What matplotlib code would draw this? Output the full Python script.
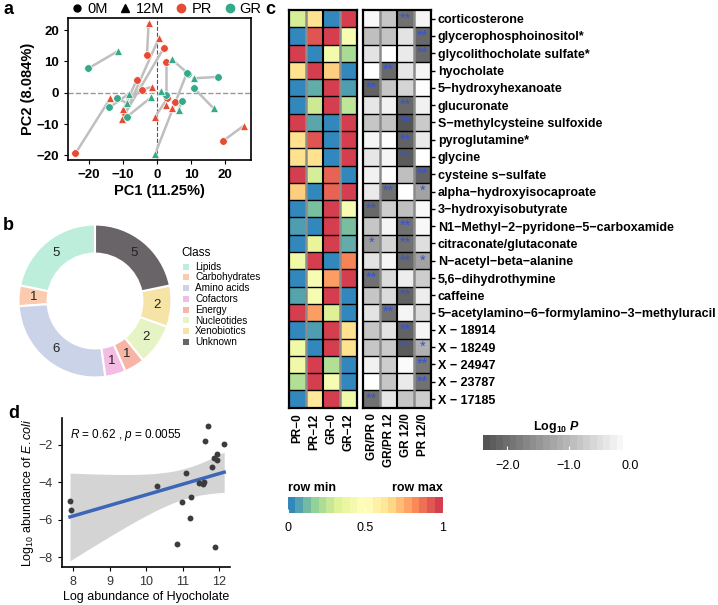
import numpy as np
import matplotlib
matplotlib.use("Agg")
import matplotlib.pyplot as plt
from matplotlib.colors import LinearSegmentedColormap, Normalize
from matplotlib.lines import Line2D
from matplotlib.patches import Rectangle
import matplotlib.cm as cm

plt.rcParams['font.family'] = ['Liberation Sans', 'DejaVu Sans']
plt.rcParams['mathtext.fontset'] = 'custom'
plt.rcParams['mathtext.rm'] = 'Liberation Sans'
plt.rcParams['mathtext.it'] = 'Liberation Sans:italic'
plt.rcParams['mathtext.bf'] = 'Liberation Sans:bold'
plt.rcParams['mathtext.bfit'] = 'Liberation Sans:italic:bold'

M = "\u2212"

# ---- panel a: PCA, 0M -> 12M per subject
pr_pc1_0 = [-24.0, -3.0, 1.9, -6.0, 2.6, 19.5, -4.3, 3.0, 5.3, -9.5]
pr_pc2_0 = [-19.4, 12.0, 14.2, 4.1, 9.7, -15.3, 0.9, -1.8, -2.9, -7.0]
pr_pc1_12 = [-13.8, -2.5, -10.4, -9.9, 2.6, 25.4, -1.6, -0.6, 4.3, 0.5]
pr_pc2_12 = [-1.8, 22.2, -8.5, -5.3, -3.9, -10.6, 1.9, -7.7, -5.0, 17.4]
gr_pc1_0 = [-20.2, 9.2, 8.7, 18.0, 10.9, -14.0, -11.9, -8.9, 2.5, 7.3]
gr_pc2_0 = [7.8, 6.0, 6.2, 5.1, 1.4, -4.7, -1.6, -7.7, -0.8, -2.7]
gr_pc1_12 = [-11.4, 4.3, -0.6, 10.7, 16.6, -8.4, -9.0, -1.8, 1.1, 6.3]
gr_pc2_12 = [13.4, 10.7, -19.6, 4.6, -5.0, -0.4, -3.3, -1.5, 0.6, -5.5]

# ---- panel b: class counts
classes = ['Lipids', 'Carbohydrates', 'Amino acids', 'Cofactors', 'Energy',
           'Nucleotides', 'Xenobiotics', 'Unknown']
class_counts = [5, 1, 6, 1, 1, 2, 2, 5]
class_colors = ['#bdeedb', '#fccaae', '#cbd3e8', '#f3bde3', '#f8b5a6',
                '#e6f4c5', '#f6e3a6', '#686468']

# ---- panel c: heatmaps
metabolites = ['corticosterone', 'glycerophosphoinositol*', 'glycolithocholate sulfate*',
               'hyocholate', '5' + M + 'hydroxyhexanoate', 'glucuronate',
               'S' + M + 'methylcysteine sulfoxide', 'pyroglutamine*', 'glycine',
               'cysteine s' + M + 'sulfate', 'alpha' + M + 'hydroxyisocaproate',
               '3' + M + 'hydroxyisobutyrate',
               'N1' + M + 'Methyl' + M + '2' + M + 'pyridone' + M + '5' + M + 'carboxamide',
               'citraconate/glutaconate', 'N' + M + 'acetyl' + M + 'beta' + M + 'alanine',
               '5,6' + M + 'dihydrothymine', 'caffeine',
               '5' + M + 'acetylamino' + M + '6' + M + 'formylamino' + M + '3' + M + 'methyluracil',
               'X ' + M + ' 18914', 'X ' + M + ' 18249', 'X ' + M + ' 24947',
               'X ' + M + ' 23787', 'X ' + M + ' 17185']
group_cols = ['PR' + M + '0', 'PR' + M + '12', 'GR' + M + '0', 'GR' + M + '12']
test_cols = ['GR/PR 0', 'GR/PR 12', 'GR 12/0', 'PR 12/0']

row_scaled = [
    [0.30, 0.65, 0.00, 1.00],
    [0.00, 0.95, 1.00, 0.45],
    [1.00, 0.00, 0.42, 0.20],
    [0.65, 1.00, 0.70, 0.00],
    [0.00, 0.08, 1.00, 0.05],
    [0.00, 0.28, 1.00, 0.25],
    [1.00, 0.07, 0.00, 1.00],
    [0.65, 0.95, 0.00, 1.00],
    [0.65, 0.65, 0.00, 1.00],
    [1.00, 0.30, 0.92, 0.00],
    [0.70, 0.00, 0.92, 1.00],
    [0.00, 0.12, 1.00, 0.45],
    [0.05, 0.00, 1.00, 0.12],
    [0.00, 0.35, 1.00, 0.08],
    [0.40, 1.00, 0.00, 0.85],
    [0.00, 0.45, 0.80, 1.00],
    [0.06, 0.45, 1.00, 0.00],
    [1.00, 0.80, 0.32, 0.00],
    [0.00, 0.05, 1.00, 0.65],
    [0.40, 0.00, 1.00, 0.65],
    [0.40, 1.00, 0.22, 0.00],
    [0.22, 1.00, 0.45, 0.00],
    [0.00, 0.62, 1.00, 0.40],
]
log_p = [
    [-0.10, -0.80, -2.00, -0.15],
    [-0.90, -0.85, -0.40, -2.10],
    [-0.40, 0.00, -0.30, -2.10],
    [0.00, -2.10, -0.35, -0.15],
    [-2.20, -0.80, -0.60, -0.02],
    [-0.35, -0.20, -2.10, -0.20],
    [-0.80, -0.85, -2.40, -0.75],
    [-0.15, -0.02, -2.20, -0.30],
    [-0.35, -0.15, -2.30, 0.00],
    [-0.20, -0.02, -0.90, -2.20],
    [-0.30, -2.00, 0.00, -1.30],
    [-2.10, -0.70, -0.90, -0.10],
    [-0.80, -0.15, -2.00, -0.10],
    [-1.40, -0.60, -2.00, -0.45],
    [-0.40, -0.15, -2.10, -1.30],
    [-2.00, -0.50, -0.25, -0.70],
    [-0.80, -0.50, -2.20, -0.25],
    [-0.40, -2.00, -0.15, -0.50],
    [-0.80, -0.40, -2.20, -0.15],
    [-0.80, -0.75, -2.30, -1.10],
    [-0.20, -0.70, -0.05, -1.90],
    [0.00, -0.80, -0.30, -2.00],
    [-2.00, -0.35, -0.80, -0.70],
]
stars = [
    ['', '', '**', ''], ['', '', '', '**'], ['', '', '', '**'], ['', '**', '', ''],
    ['**', '', '', ''], ['', '', '**', ''], ['', '', '**', ''], ['', '', '**', ''],
    ['', '', '**', ''], ['', '', '', '**'], ['', '**', '', '*'], ['**', '', '', ''],
    ['', '', '**', ''], ['*', '', '**', ''], ['', '', '**', '*'], ['**', '', '', ''],
    ['', '', '**', ''], ['', '**', '', ''], ['', '', '**', ''], ['', '', '**', '*'],
    ['', '', '', '**'], ['', '', '', '**'], ['**', '', '', ''],
]

# ---- panel d: correlation
hyocholate = [7.91, 7.93, 10.29, 10.98, 11.10, 11.22, 11.21, 10.84, 11.46, 11.60,
              11.62, 11.71, 11.80, 11.85, 11.94, 11.94, 12.14, 11.89, 11.55]
ecoli = [-5.00, -5.48, -4.19, -5.07, -3.51, -4.80, -5.89, -7.31, -4.05, -4.00,
         -1.77, -0.97, -3.16, -2.71, -2.50, -2.80, -1.96, -7.44, -4.10]

PR_COL = '#e64b35'
GR_COL = '#35a98a'

W, H = 718, 605
fig = plt.figure(figsize=(W / 100, H / 100), dpi=100)


def box(x0, y0, x1, y1):
    return [x0 / W, 1 - y1 / H, (x1 - x0) / W, (y1 - y0) / H]


def letter(x, y, s):
    fig.text(x / W, 1 - y / H, s, fontsize=13, fontweight='bold', va='center', ha='left')


# ================= a
ax = fig.add_axes(box(68, 18, 251, 160))
ax.axhline(0, color='#999999', ls='--', lw=1)
ax.axvline(0, color='#555555', ls='--', lw=0.8)
for x0s, y0s, x1s, y1s, col in [(pr_pc1_0, pr_pc2_0, pr_pc1_12, pr_pc2_12, PR_COL),
                                 (gr_pc1_0, gr_pc2_0, gr_pc1_12, gr_pc2_12, GR_COL)]:
    for x0, y0, x1, y1 in zip(x0s, y0s, x1s, y1s):
        ax.plot([x0, x1], [y0, y1], color='#bfbfbf', lw=1.8, zorder=2)
for x0s, y0s, x1s, y1s, col in [(pr_pc1_0, pr_pc2_0, pr_pc1_12, pr_pc2_12, PR_COL),
                                 (gr_pc1_0, gr_pc2_0, gr_pc1_12, gr_pc2_12, GR_COL)]:
    ax.plot(x0s, y0s, 'o', color=col, ms=5.5, mec='white', mew=0.5, zorder=3)
    ax.plot(x1s, y1s, '^', color=col, ms=6, mec='white', mew=0.5, zorder=3)
ax.set_xlim(-26.2, 27.6)
ax.set_ylim(-21.5, 23.9)
ax.set_xticks([-20, -10, 0, 10, 20])
ax.set_yticks([-20, -10, 0, 10, 20])
ax.tick_params(labelsize=9.5, length=3)
plt.setp(ax.get_xticklabels() + ax.get_yticklabels(), fontweight='bold')
ax.set_xlabel('PC1 (11.25%)', fontsize=10.5, fontweight='bold', labelpad=2)
ax.set_ylabel('PC2 (8.084%)', fontsize=10.5, fontweight='bold', labelpad=1)
for s in ax.spines.values():
    s.set_linewidth(1.2)
handles = [Line2D([], [], marker='o', color='black', ls='', ms=5),
           Line2D([], [], marker='^', color='black', ls='', ms=6),
           Line2D([], [], marker='o', color=PR_COL, ls='', ms=6),
           Line2D([], [], marker='o', color=GR_COL, ls='', ms=6)]
ax.legend(handles, ['0M', '12M', 'PR', 'GR'], ncol=4, loc='lower center',
          bbox_to_anchor=(0.53, 0.96), frameon=False, fontsize=10.5,
          handletextpad=0.1, columnspacing=0.6, handlelength=1.2, borderpad=0)
letter(4, 9, 'a')

# ================= b
axb = fig.add_axes(box(17, 223, 173, 379))
total = sum(class_counts)
axb.pie(class_counts, colors=class_colors, startangle=90, counterclock=True,
        radius=1, wedgeprops=dict(width=0.38, edgecolor='white', linewidth=1.5),
        autopct=lambda p: '%d' % round(p * total / 100), pctdistance=0.81,
        textprops=dict(fontsize=9.5, color='#222222'))
axb.set_aspect('equal')
axb.set_xlim(-1.02, 1.02)
axb.set_ylim(-1.02, 1.02)
fig.text(181 / W, 1 - 253 / H, 'Class', fontsize=8.5, ha='left', va='center')
for k, (c, lab) in enumerate(zip(class_colors, classes)):
    yy = 266.5 + k * 10.8
    fig.add_artist(Rectangle((183 / W, 1 - (yy + 3) / H), 6 / W, 6 / H,
                             transform=fig.transFigure, color=c, lw=0))
    fig.text(195 / W, 1 - yy / H, lab, fontsize=7.2, ha='left', va='center')
letter(3, 226, 'b')

# ================= c
cmap_row = LinearSegmentedColormap.from_list(
    'rowcol', ['#3288bd', '#99d594', '#e6f598', '#ffffbf', '#fee08b', '#fc8d59', '#d53e4f'])
cmap_p = LinearSegmentedColormap.from_list('pcol', ['#555555', '#ffffff'])
nrow = len(metabolites)

axh1 = fig.add_axes(box(289.3, 10, 356.7, 407.7))
axh2 = fig.add_axes(box(363.3, 10, 431, 407.7))
axh1.imshow(np.array(row_scaled), cmap=cmap_row, vmin=0, vmax=1, aspect='auto',
            interpolation='nearest')
axh2.imshow(np.array(log_p), cmap=cmap_p, vmin=-2.4, vmax=0, aspect='auto',
            interpolation='nearest')
for a, cols in [(axh1, group_cols), (axh2, test_cols)]:
    for i in range(nrow - 1):
        a.axhline(i + 0.5, color='black', lw=1)
    for j in [0.5, 2.5]:
        a.axvline(j, color='#8c8c8c', lw=1.8)
    a.axvline(1.5, color='black', lw=1.5)
    a.set_xticks(range(4))
    a.set_xticklabels(cols, rotation=90, fontsize=8.5, fontweight='bold')
    a.tick_params(axis='x', length=0, pad=4)
    for s in a.spines.values():
        s.set_linewidth(1.6)
axh1.set_yticks([])
axh2.yaxis.tick_right()
axh2.set_yticks(range(nrow))
axh2.set_yticklabels(metabolites, fontsize=9, fontweight='bold')
axh2.tick_params(axis='y', length=3, width=1, pad=2)
for i in range(nrow):
    for j in range(4):
        if stars[i][j]:
            axh2.text(j, i - 0.02, stars[i][j], ha='center', va='center',
                      color='#3454d1', fontsize=10.5)
letter(265, 9, 'c')

# colour bar: row scaled
cax1 = fig.add_axes(box(287.7, 497, 442.7, 512.7))
sm1 = cm.ScalarMappable(norm=Normalize(0, 1), cmap=cmap_row.resampled(20))
cb1 = fig.colorbar(sm1, cax=cax1, orientation='horizontal', ticks=[0, 0.5, 1])
cb1.outline.set_visible(False)
cb1.ax.set_xticklabels(['0', '0.5', '1'])
cb1.ax.tick_params(length=3, color='white', direction='in', labelsize=9, pad=7)
fig.text(288 / W, 1 - 488 / H, 'row min', fontsize=9, fontweight='bold', ha='left', va='center')
fig.text(443 / W, 1 - 488 / H, 'row max', fontsize=9, fontweight='bold', ha='right', va='center')

# colour bar: log10 P
cax2 = fig.add_axes(box(483, 435, 630, 450))
sm2 = cm.ScalarMappable(norm=Normalize(-2.4, 0), cmap=cmap_p.resampled(22))
cb2 = fig.colorbar(sm2, cax=cax2, orientation='horizontal', ticks=[-2, -1, 0])
cb2.outline.set_visible(False)
cb2.ax.set_xticklabels([M + '2.0', M + '1.0', '0.0'])
cb2.ax.tick_params(length=3, color='white', direction='in', labelsize=9, pad=7)
fig.text(556 / W, 1 - 427 / H, r'Log$_{\mathbf{10}}$ $\mathbfit{P}$', fontsize=9,
         fontweight='bold', ha='center', va='center')

# ================= d
axd = fig.add_axes(box(62, 418, 230, 566.7))
xd = np.array(hyocholate)
yd = np.array(ecoli)
b1, b0 = np.polyfit(xd, yd, 1)
xs = np.linspace(xd.min(), xd.max(), 100)
ys = b0 + b1 * xs
n = len(xd)
resid = yd - (b0 + b1 * xd)
s_err = np.sqrt(np.sum(resid ** 2) / (n - 2))
se = s_err * np.sqrt(1 / n + (xs - xd.mean()) ** 2 / np.sum((xd - xd.mean()) ** 2))
axd.fill_between(xs, ys - 2.11 * se, ys + 2.11 * se, color='#d4d4d4', lw=0, zorder=1)
axd.plot(xs, ys, color='#3d65b8', lw=2.5, zorder=2)
axd.scatter(xd, yd, s=18, color='#3c3c3c', zorder=3, lw=0)
axd.set_xlim(7.69, 12.3)
axd.set_ylim(-8.5, -0.56)
axd.set_xticks([8, 9, 10, 11, 12])
axd.set_yticks([-2, -4, -6, -8])
axd.spines['top'].set_visible(False)
axd.spines['right'].set_visible(False)
axd.spines['left'].set_linewidth(1.2)
axd.spines['bottom'].set_linewidth(1.2)
axd.tick_params(labelsize=9, length=3, labelcolor='#333333')
axd.set_xlabel('Log abundance of Hyocholate', fontsize=9, labelpad=2)
axd.set_ylabel(r'Log$_{10}$ abundance of $\mathit{E. coli}$', fontsize=9, labelpad=2)
axd.text(0.05, 0.885, r'$R$ = 0.62 , $p$ = 0.0055', transform=axd.transAxes,
         fontsize=8.5, ha='left', va='center')
letter(8, 413, 'd')

fig.savefig('out.png', dpi=100)
